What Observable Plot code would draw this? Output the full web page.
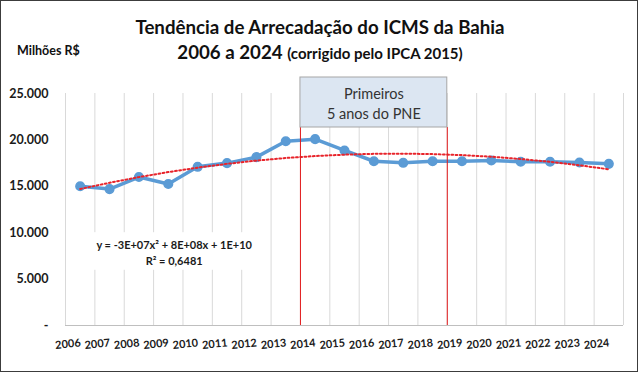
<!DOCTYPE html>
<html>
<head>
<meta charset="utf-8">
<script src="https://cdn.jsdelivr.net/npm/d3@7"></script>
<script src="https://cdn.jsdelivr.net/npm/@observablehq/plot@0.6"></script>
<style>
  html, body { margin: 0; padding: 0; background: #fff; }
  #wrap { position: relative; width: 640px; height: 373px; overflow: hidden; font-family: Lato, "Open Sans", sans-serif; color: #111; }
  #wrap svg { position: absolute; left: 0; top: 0; }
  .t1 { position: absolute; left: 0; width: 640px; text-align: center; top: 15px; font-size: 18.7px; font-weight: bold; line-height: 24px; }
  .t2 { position: absolute; left: 0; width: 640px; text-align: center; top: 40px; font-size: 18.7px; font-weight: bold; line-height: 24px; }
  .t2 .small { font-size: 15px; }
  .unit { position: absolute; left: 17px; top: 43px; font-size: 12.5px; font-weight: bold; line-height: 16px; }
  .border { position: absolute; left: 0; top: 0; width: 636px; height: 370px; border: 1px solid #3c3c3c; pointer-events: none; }
</style>
</head>
<body>
<div id="wrap">
  <div id="chart"></div>
  <div class="t1">Tendência de Arrecadação do ICMS da Bahia</div>
  <div class="t2">2006 a 2024 <span class="small">(corrigido pelo IPCA 2015)</span></div>
  <div class="unit">Milhões R$</div>
  <div class="border"></div>
</div>
<script>
const years = [2006, 2007, 2008, 2009, 2010, 2011, 2012, 2013, 2014, 2015, 2016, 2017, 2018, 2019, 2020, 2021, 2022, 2023, 2024];
const icms  = [15000, 14700, 16000, 15250, 17100, 17500, 18140, 19860, 20080, 18860, 17700, 17530, 17700, 17700, 17780, 17640, 17640, 17560, 17420];
const trend = [14710, 15380, 15990, 16530, 17010, 17420, 17770, 18050, 18260, 18410, 18500, 18520, 18470, 18360, 18190, 17940, 17640, 17260, 16830];
const yTicks = [0, 5000, 10000, 15000, 20000, 25000];
const yTickLabels = ["-", "5.000", "10.000", "15.000", "20.000", "25.000"];
const pnePeriod = [2014, 2018];
const pneLabel = "Primeiros\n5 anos do PNE";
const equationLabel = "y = -3E+07x² + 8E+08x + 1E+10\nR² = 0,6481";
const equationAnchor = [{x: 2009.2, y: 7900}];
const equationBackground = [{x1: 2006.25, x2: 2012.2, y1: 5950, y2: 10000}];

const rows = years.map((year, i) => ({year, value: icms[i], trend: trend[i]}));
const boundaries = [...years.map(y => y - 0.5), years[years.length - 1] + 0.5];
const pneEdges = [pnePeriod[0] - 0.5, pnePeriod[1] + 0.5];
const blue = "#5b9bd5";

const chart = Plot.plot({
  width: 640,
  height: 373,
  marginTop: 93,
  marginBottom: 48,
  marginLeft: 65,
  marginRight: 17,
  style: {fontFamily: "Lato, 'Open Sans', sans-serif", color: "#1a1a1a", background: "transparent"},
  x: {type: "linear", domain: [boundaries[0], boundaries[boundaries.length - 1]]},
  y: {domain: [yTicks[0], yTicks[yTicks.length - 1]]},
  marks: [
    Plot.ruleX(boundaries, {stroke: "#d9d9d9", strokeWidth: 1}),
    Plot.rect(equationBackground, {x1: "x1", x2: "x2", y1: "y1", y2: "y2", fill: "white"}),
    Plot.ruleY([0], {stroke: "#bfbfbf", strokeWidth: 1}),
    Plot.text(equationAnchor, {x: "x", y: "y", text: () => equationLabel, fontSize: 11, fontWeight: "bold", fill: "#1a1a1a", lineHeight: 1.45, lineAnchor: "middle"}),
    Plot.axisY({ticks: yTicks, tickFormat: d => yTickLabels[yTicks.indexOf(d)], tickSize: 0, tickPadding: 17, fontSize: 12.5, fontWeight: "bold", fill: "#1a1a1a", label: null}),
    Plot.axisX({ticks: years, tickFormat: d => String(d), tickSize: 0, tickPadding: 13, tickRotate: -6, textAnchor: "end", fontSize: 11, fontWeight: "bold", fill: "#1a1a1a", label: null}),
    Plot.line(rows, {x: "year", y: "value", stroke: blue, strokeWidth: 3.5}),
    Plot.dot(rows, {x: "year", y: "value", r: 4.3, fill: blue, stroke: blue}),
    Plot.line(rows, {x: "year", y: "trend", stroke: "#e8242b", strokeWidth: 2, strokeDasharray: "1.8 2.4"}),
    Plot.ruleX(pneEdges, {stroke: "#e31a1c", strokeWidth: 1, insetTop: 34}),
    Plot.rect([pneEdges], {x1: d => d[0], x2: d => d[1], fill: "#dce6f2", stroke: "#a6a6a6", strokeWidth: 1, insetTop: -16, insetBottom: 198}),
    Plot.text([pneEdges], {x: d => (d[0] + d[1]) / 2, frameAnchor: "top", dy: 9, text: () => pneLabel, lineAnchor: "middle", lineHeight: 1.37, fontSize: 14.5, fill: "#333"})
  ]
});
document.getElementById("chart").appendChild(chart);
</script>
</body>
</html>
